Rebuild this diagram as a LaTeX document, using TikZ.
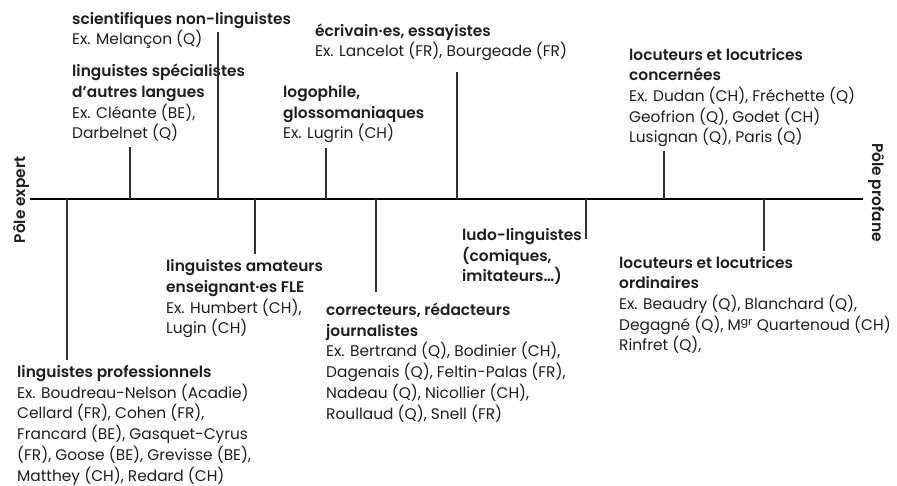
\documentclass[tikz,border=0pt]{standalone}
\usepackage{fontspec}
\setmainfont{Poppins}[BoldFont={Poppins SemiBold}]
\definecolor{ink}{HTML}{1E1E1E}
\definecolor{tickc}{HTML}{333333}
\begin{document}
\begin{tikzpicture}[x=1pt,y=-1pt,
  lbl/.style={anchor=base west, inner sep=0pt, align=left, text=ink,
    font=\fontsize{15.4}{20.7}\selectfont},
  tickline/.style={draw=tickc, line width=1.1pt},
  axisline/.style={draw=black, line width=2.6pt},
  pole/.style={inner sep=0pt, anchor=base, text=ink, font=\fontsize{15.4}{18}\selectfont\bfseries}]
\useasboundingbox (0,0) rectangle (897,486);
% axis
\coordinate (axL) at (30,199);
\coordinate (axR) at (863,199);
\draw[axisline] (axL) -- (axR);
% poles
\node[pole, rotate=90] (expert) at (25,200) {Pôle expert};
\node[pole, rotate=-90] (profane) at (872,192.5) {Pôle profane};
% labels (anchored at the baseline of their last line)
\node[lbl] (sci) at (72,45) {\textbf{scientifiques non-linguistes}\\Ex. Melançon (Q)};
\node[lbl] (spe) at (72,139) {\textbf{linguistes spécialistes}\\\textbf{d’autres langues}\\Ex. Cléante (BE),\\Darbelnet (Q)};
\node[lbl] (logo) at (283,139) {\textbf{logophile,}\\\textbf{glossomaniaques}\\Ex. Lugrin (CH)};
\node[lbl] (ecr) at (315,57) {\textbf{écrivain·es, essayistes}\\Ex. Lancelot (FR), Bourgeade (FR)};
\node[lbl] (conc) at (629,143) {\textbf{locuteurs et locutrices}\\\textbf{concernées}\\Ex. Dudan (CH), Fréchette (Q)\\Geofrion (Q), Godet (CH)\\Lusignan (Q), Paris (Q)};
\node[lbl] (amat) at (166,334) {\textbf{linguistes amateurs}\\\textbf{enseignant·es FLE}\\Ex. Humbert (CH),\\Lugin (CH)};
\node[lbl] (prof) at (17,481) {\textbf{linguistes professionnels}\\Ex. Boudreau-Nelson (Acadie)\\Cellard (FR), Cohen (FR),\\Francard (BE), Gasquet-Cyrus\\(FR), Goose (BE), Grevisse (BE),\\Matthey (CH), Redard (CH)};
\node[lbl] (corr) at (326,419) {\textbf{correcteurs, rédacteurs}\\\textbf{journalistes}\\Ex. Bertrand (Q), Bodinier (CH),\\Dagenais (Q), Feltin-Palas (FR),\\Nadeau (Q), Nicollier (CH),\\Roullaud (Q), Snell (FR)};
\node[lbl] (ludo) at (462,282) {\textbf{ludo-linguistes}\\\textbf{(comiques,}\\\textbf{imitateurs…)}};
\node[lbl] (ord) at (619,351) {\textbf{locuteurs et locutrices}\\\textbf{ordinaires}\\Ex. Beaudry (Q), Blanchard (Q),\\Degagné (Q), M\textsuperscript{gr} Quartenoud (CH)\\Rinfret (Q),};
% ticks above
\coordinate (a1) at (130,199); \coordinate (e1) at (130,147);
\coordinate (a2) at (218,199); \coordinate (e2) at (218,32);
\coordinate (a3) at (326,199); \coordinate (e3) at (326,148);
\coordinate (a4) at (457,199); \coordinate (e4) at (457,72);
\coordinate (a5) at (664,199); \coordinate (e5) at (664,151);
% ticks below
\coordinate (a6) at (67,199); \coordinate (e6) at (67,360);
\coordinate (a7) at (255,199); \coordinate (e7) at (255,254);
\coordinate (a8) at (376,199); \coordinate (e8) at (376,292);
\coordinate (a9) at (586,199); \coordinate (e9) at (586,239);
\coordinate (a10) at (764,199); \coordinate (e10) at (764,251);
\foreach \i in {1,...,10} {\draw[tickline] (a\i) -- (e\i);}
\end{tikzpicture}
\end{document}
